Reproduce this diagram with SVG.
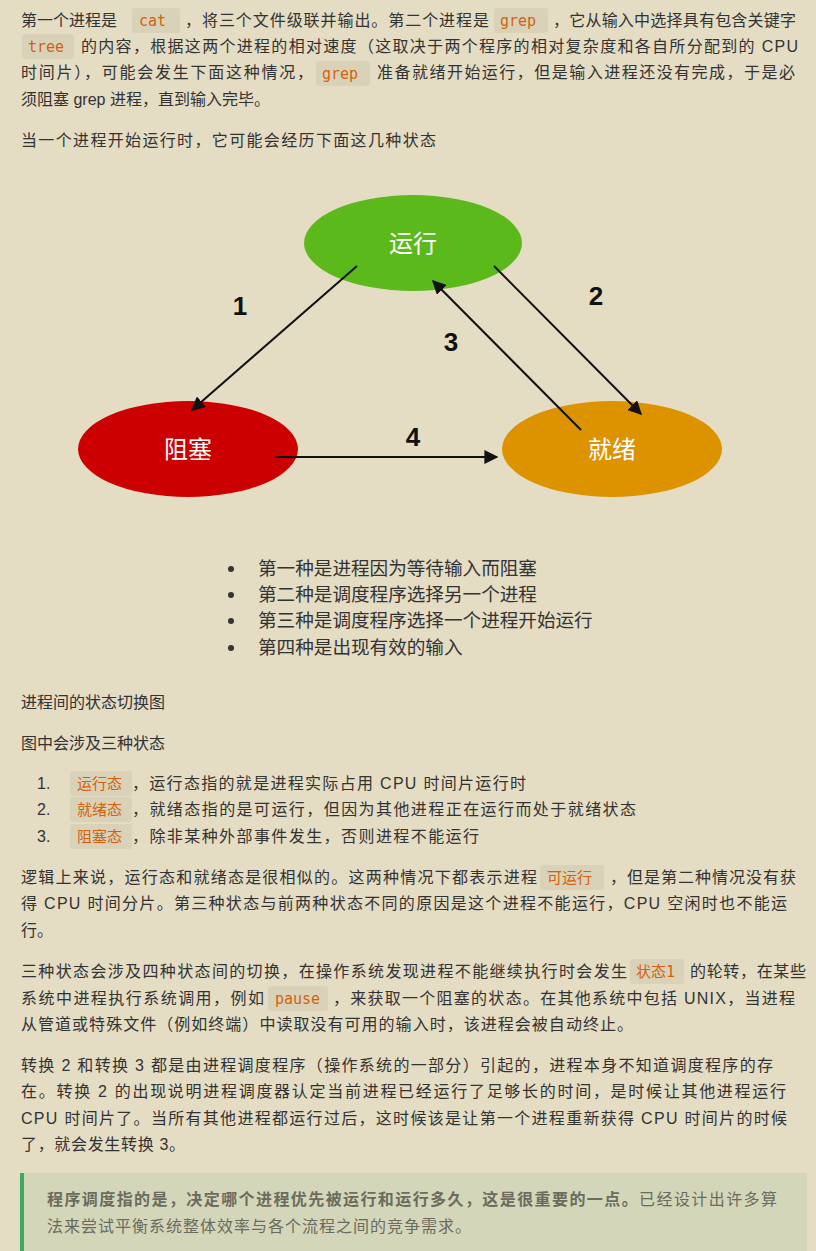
<svg xmlns="http://www.w3.org/2000/svg" width="816" height="1251" viewBox="0 0 816 1251">
<defs>
<style>
.t{font-family:"Liberation Sans","Noto Sans CJK SC",sans-serif;font-size:16px;fill:#333}
.b{font-family:"Liberation Sans","Noto Sans CJK SC",sans-serif;font-size:18.6px;fill:#333}
.c{font-family:"DejaVu Sans Mono","Noto Sans CJK SC",monospace;font-size:15px;fill:#d2620d}
.cb{fill:#dad2b8}
.n{font-family:"Liberation Sans",sans-serif;font-size:26px;font-weight:bold;fill:#111}
.e{font-family:"Noto Sans CJK SC",sans-serif;font-size:24px;fill:#fff}
.q{font-family:"Liberation Sans","Noto Sans CJK SC",sans-serif;font-size:16px;fill:#6b6b5e}
.ln{stroke:#111;stroke-width:2;fill:none;marker-end:url(#ah)}
</style>
<marker id="ah" viewBox="0 0 10 10" refX="9" refY="5" markerWidth="7" markerHeight="7" orient="auto"><path d="M0,0 L10,5 L0,10 z" fill="#111"/></marker>
</defs>
<rect width="816" height="1251" fill="#e4dcc3"/>
<g id="text-top">
<text class="t" x="21" y="26">第一个进程是</text>
<rect class="cb" x="132" y="8" width="48" height="25" rx="3"/><text class="c" x="139" y="26">cat</text>
<text class="t" x="185" y="26" textLength="304" lengthAdjust="spacing">，将三个文件级联并输出。第二个进程是</text>
<rect class="cb" x="494" y="8" width="54" height="25" rx="3"/><text class="c" x="500" y="26">grep</text>
<text class="t" x="553" y="26" textLength="243" lengthAdjust="spacing">，它从输入中选择具有包含关键字</text>
<rect class="cb" x="22" y="34" width="52" height="25" rx="3"/><text class="c" x="28" y="52">tree</text>
<text class="t" x="81" y="52" textLength="717" lengthAdjust="spacing">的内容，根据这两个进程的相对速度（这取决于两个程序的相对复杂度和各自所分配到的 CPU</text>
<text class="t" x="21" y="78" textLength="292" lengthAdjust="spacing">时间片），可能会发生下面这种情况，</text>
<rect class="cb" x="316" y="61" width="54" height="25" rx="3"/><text class="c" x="322" y="79">grep</text>
<text class="t" x="377" y="78" textLength="418" lengthAdjust="spacing">准备就绪开始运行，但是输入进程还没有完成，于是必</text>
<text class="t" x="21" y="105">须阻塞 grep 进程，直到输入完毕。</text>
<text class="t" x="21" y="146" textLength="415" lengthAdjust="spacing">当一个进程开始运行时，它可能会经历下面这几种状态</text>
</g>
<g id="node-run"><ellipse cx="413" cy="243" rx="109" ry="48" fill="#5cb91c"/><text class="e" x="413" y="252" text-anchor="middle">运行</text></g>
<g id="node-block"><ellipse cx="188" cy="449" rx="110" ry="48" fill="#cc0000"/><text class="e" x="188" y="458" text-anchor="middle">阻塞</text></g>
<g id="node-ready"><ellipse cx="612" cy="449" rx="110" ry="48" fill="#dd9200"/><text class="e" x="612" y="458" text-anchor="middle">就绪</text></g>
<g id="connectors">
<line class="ln" x1="357" y1="266" x2="192" y2="410"/>
<line class="ln" x1="494" y1="266" x2="641" y2="414"/>
<line class="ln" x1="581" y1="430" x2="433" y2="281"/>
<line class="ln" x1="275" y1="457" x2="497" y2="457"/>
<text class="n" x="240" y="315" text-anchor="middle">1</text>
<text class="n" x="596" y="305" text-anchor="middle">2</text>
<text class="n" x="451" y="351" text-anchor="middle">3</text>
<text class="n" x="413" y="446" text-anchor="middle">4</text>
</g>
<g id="bullets">
<circle cx="231" cy="569" r="3" fill="#333"/><text class="b" x="258" y="575">第一种是进程因为等待输入而阻塞</text>
<circle cx="231" cy="595" r="3" fill="#333"/><text class="b" x="258" y="601">第二种是调度程序选择另一个进程</text>
<circle cx="231" cy="621" r="3" fill="#333"/><text class="b" x="258" y="627">第三种是调度程序选择一个进程开始运行</text>
<circle cx="231" cy="648" r="3" fill="#333"/><text class="b" x="258" y="654">第四种是出现有效的输入</text>
</g>
<g id="text-body">
<text class="t" x="21" y="708">进程间的状态切换图</text>
<text class="t" x="21" y="749">图中会涉及三种状态</text>
<text class="t" x="37" y="789">1.</text><rect class="cb" x="70" y="771" width="62" height="25" rx="3"/><text class="c" x="77" y="789">运行态</text><text class="t" x="132" y="789" textLength="394" lengthAdjust="spacing">，运行态指的就是进程实际占用 CPU 时间片运行时</text>
<text class="t" x="37" y="815">2.</text><rect class="cb" x="70" y="797" width="62" height="25" rx="3"/><text class="c" x="77" y="815">就绪态</text><text class="t" x="132" y="815" textLength="504" lengthAdjust="spacing">，就绪态指的是可运行，但因为其他进程正在运行而处于就绪状态</text>
<text class="t" x="37" y="842">3.</text><rect class="cb" x="70" y="824" width="62" height="25" rx="3"/><text class="c" x="77" y="842">阻塞态</text><text class="t" x="132" y="842" textLength="347" lengthAdjust="spacing">，除非某种外部事件发生，否则进程不能运行</text>
<text class="t" x="21" y="883" textLength="516" lengthAdjust="spacing">逻辑上来说，运行态和就绪态是很相似的。这两种情况下都表示进程</text>
<rect class="cb" x="540" y="865" width="64" height="25" rx="3"/><text class="c" x="547" y="883">可运行</text>
<text class="t" x="610" y="883" textLength="186" lengthAdjust="spacing">，但是第二种情况没有获</text>
<text class="t" x="21" y="909" textLength="766" lengthAdjust="spacing">得 CPU 时间分片。第三种状态与前两种状态不同的原因是这个进程不能运行，CPU 空闲时也不能运</text>
<text class="t" x="21" y="936">行。</text>
<text class="t" x="21" y="977" textLength="606" lengthAdjust="spacing">三种状态会涉及四种状态间的切换，在操作系统发现进程不能继续执行时会发生</text>
<rect class="cb" x="630" y="959" width="54" height="25" rx="3"/><text class="c" x="636" y="977">状态1</text>
<text class="t" x="690" y="977" textLength="116" lengthAdjust="spacing">的轮转，在某些</text>
<text class="t" x="21" y="1004" textLength="243" lengthAdjust="spacing">系统中进程执行系统调用，例如</text>
<rect class="cb" x="268" y="986" width="60" height="25" rx="3"/><text class="c" x="275" y="1004">pause</text>
<text class="t" x="333" y="1004" textLength="462" lengthAdjust="spacing">，来获取一个阻塞的状态。在其他系统中包括 UNIX，当进程</text>
<text class="t" x="21" y="1030" textLength="612" lengthAdjust="spacing">从管道或特殊文件（例如终端）中读取没有可用的输入时，该进程会被自动终止。</text>
<text class="t" x="21" y="1071" textLength="752" lengthAdjust="spacing">转换 2 和转换 3 都是由进程调度程序（操作系统的一部分）引起的，进程本身不知道调度程序的存</text>
<text class="t" x="21" y="1097" textLength="765" lengthAdjust="spacing">在。转换 2 的出现说明进程调度器认定当前进程已经运行了足够长的时间，是时候让其他进程运行</text>
<text class="t" x="21" y="1124" textLength="766" lengthAdjust="spacing">CPU 时间片了。当所有其他进程都运行过后，这时候该是让第一个进程重新获得 CPU 时间片的时候</text>
<text class="t" x="21" y="1150" textLength="164" lengthAdjust="spacing">了，就会发生转换 3。</text>
</g>
<g id="quote">
<rect x="20" y="1173" width="787" height="78" fill="#d3d6b8"/>
<rect x="20" y="1173" width="4" height="78" fill="#3daa62"/>
<text class="q" x="47" y="1205" textLength="730" lengthAdjust="spacing"><tspan font-weight="bold">程序调度指的是，决定哪个进程优先被运行和运行多久，这是很重要的一点。</tspan>已经设计出许多算</text>
<text class="q" x="47" y="1232" textLength="424" lengthAdjust="spacing">法来尝试平衡系统整体效率与各个流程之间的竞争需求。</text>
</g>
</svg>
